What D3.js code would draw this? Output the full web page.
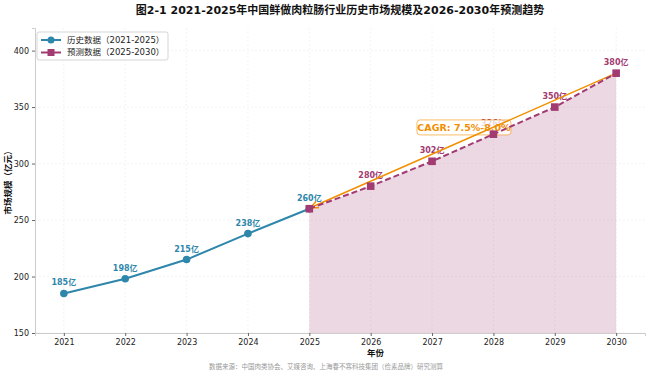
<!DOCTYPE html>
<html>
<head>
<meta charset="utf-8">
<script src="https://cdn.jsdelivr.net/npm/d3@7"></script>
<style>
body { margin: 0; background: #fff; }
svg text { font-family: "DejaVu Sans", "Noto Sans CJK SC", sans-serif; }
</style>
</head>
<body>
<div id="chart"></div>
<script>
// history + forecast data (亿元)
var histYears = [2021, 2022, 2023, 2024, 2025];
var histValues = [185, 198, 215, 238, 260];
var foreYears = [2025, 2026, 2027, 2028, 2029, 2030];
var foreValues = [260, 280, 302, 326, 350, 380];
var yTicks = [150, 200, 250, 300, 350, 400];

var blue = "#2E86AB", plum = "#A23B72", orange = "#F18F01";

var width = 650, height = 377;
var margin = {top: 28, right: 5, bottom: 44, left: 35};

var svg = d3.select("#chart").append("svg")
	.attr("width", width)
	.attr("height", height);

var x = d3.scaleLinear()
	.domain([2020.53, 2030.47])
	.range([margin.left, width - margin.right]);

var y = d3.scaleLinear()
	.domain([150, 420])
	.range([height - margin.bottom, margin.top]);

// grid
var grid = svg.append("g");
grid.selectAll(".gx").data(d3.range(2021, 2031)).enter().append("line")
	.attr("x1", d => x(d)).attr("x2", d => x(d))
	.attr("y1", margin.top).attr("y2", height - margin.bottom)
	.attr("stroke", "#ececec").attr("stroke-width", 0.6).attr("stroke-dasharray", "2,2");
grid.selectAll(".gy").data(yTicks).enter().append("line")
	.attr("x1", margin.left).attr("x2", width - margin.right)
	.attr("y1", d => y(d)).attr("y2", d => y(d))
	.attr("stroke", "#ececec").attr("stroke-width", 0.6).attr("stroke-dasharray", "2,2");

// forecast area
var area = d3.area()
	.x((d, i) => x(foreYears[i]))
	.y0(y(150))
	.y1(d => y(d));
svg.append("path")
	.datum(foreValues)
	.attr("d", area)
	.attr("fill", plum).attr("fill-opacity", 0.2);

// axes
var xAxis = svg.append("g")
	.attr("transform", "translate(0," + (height - margin.bottom) + ")")
	.call(d3.axisBottom(x).tickValues(d3.range(2021, 2031)).tickFormat(d3.format("d")).tickSize(3).tickPadding(3));
var yAxis = svg.append("g")
	.attr("transform", "translate(" + margin.left + ",0)")
	.call(d3.axisLeft(y).tickValues(yTicks).tickSize(3).tickPadding(3));
[xAxis, yAxis].forEach(function(a) {
	a.select(".domain").attr("stroke", "#cccccc");
	a.selectAll(".tick line").attr("stroke", "#666");
	a.selectAll(".tick text").attr("fill", "#222").style("font-size", "8px");
});

// value labels
var allYears = histYears.concat(foreYears.slice(1));
var allValues = histValues.concat(foreValues.slice(1));
svg.selectAll(".vlab").data(d3.zip(allYears, allValues)).enter().append("text")
	.attr("x", d => x(d[0]))
	.attr("y", d => y(d[1]) - 8)
	.attr("text-anchor", "middle")
	.attr("fill", d => d[0] <= 2025 ? blue : plum)
	.style("font-size", "8px").style("font-weight", "bold")
	.text(d => d[1] + "亿");

// CAGR box (semi-transparent, sits over the 2028 label, under the lines)
var cg = svg.append("g").attr("transform", "translate(" + x(2027.52) + "," + y(332) + ")");
cg.append("rect")
	.attr("x", -47).attr("y", -7.5).attr("width", 94).attr("height", 15).attr("rx", 3)
	.attr("fill", "#fff").attr("fill-opacity", 0.8)
	.attr("stroke", orange).attr("stroke-opacity", 0.6).attr("stroke-width", 1);
cg.append("text")
	.attr("text-anchor", "middle").attr("dy", "0.35em")
	.attr("fill", orange)
	.style("font-size", "9.5px").style("font-weight", "bold")
	.text("CAGR: 7.5%-8.0%");

// orange CAGR arrow
svg.append("defs").append("marker")
	.attr("id", "arrow").attr("viewBox", "0 0 10 10")
	.attr("refX", 9).attr("refY", 5)
	.attr("markerWidth", 6).attr("markerHeight", 6)
	.attr("orient", "auto")
	.append("path").attr("d", "M0,1 L9,5 L0,9").attr("fill", "none").attr("stroke", orange).attr("stroke-width", 1.5);
svg.append("line")
	.attr("x1", x(2030)).attr("y1", y(380))
	.attr("x2", x(2025) + 1).attr("y2", y(260) - 1)
	.attr("stroke", orange).attr("stroke-width", 1.5)
	.attr("marker-end", "url(#arrow)");

// lines
var line = d3.line().x(d => x(d[0])).y(d => y(d[1]));
svg.append("path")
	.datum(d3.zip(histYears, histValues))
	.attr("d", line)
	.attr("fill", "none").attr("stroke", blue).attr("stroke-width", 2);
svg.append("path")
	.datum(d3.zip(foreYears, foreValues))
	.attr("d", line)
	.attr("fill", "none").attr("stroke", plum).attr("stroke-width", 2)
	.attr("stroke-dasharray", "6,3");

svg.selectAll(".hdot").data(d3.zip(histYears, histValues)).enter().append("circle")
	.attr("cx", d => x(d[0])).attr("cy", d => y(d[1])).attr("r", 3.8)
	.attr("fill", blue);
svg.selectAll(".fdot").data(d3.zip(foreYears, foreValues)).enter().append("rect")
	.attr("x", d => x(d[0]) - 3.8).attr("y", d => y(d[1]) - 3.8)
	.attr("width", 7.6).attr("height", 7.6)
	.attr("fill", plum);

// legend
var lg = svg.append("g").attr("transform", "translate(37,32)");
lg.append("rect").attr("width", 131).attr("height", 28).attr("rx", 2)
	.attr("fill", "#fff").attr("fill-opacity", 0.9).attr("stroke", "#d5d5d5");
var legendItems = [["历史数据（2021-2025）", blue, "circle"], ["预测数据（2025-2030）", plum, "square"]];
legendItems.forEach(function(it, i) {
	var gy = 8 + i * 12.5;
	lg.append("line").attr("x1", 4).attr("x2", 24).attr("y1", gy).attr("y2", gy)
		.attr("stroke", it[1]).attr("stroke-width", 2);
	if (it[2] == "circle")
		lg.append("circle").attr("cx", 14).attr("cy", gy).attr("r", 3.5).attr("fill", it[1]);
	else
		lg.append("rect").attr("x", 10.5).attr("y", gy - 3.5).attr("width", 7).attr("height", 7).attr("fill", it[1]);
	lg.append("text").attr("x", 30).attr("y", gy).attr("dy", "0.35em")
		.attr("fill", "#222").style("font-size", "8.5px").text(it[0]);
});

// title, axis labels, source
svg.append("text")
	.attr("x", 340).attr("y", 14).attr("text-anchor", "middle")
	.style("font-size", "11px").style("font-weight", "bold").attr("fill", "#111")
	.text("图2-1  2021-2025年中国鲜做肉粒肠行业历史市场规模及2026-2030年预测趋势");
svg.append("text")
	.attr("transform", "translate(11," + ((margin.top + height - margin.bottom) / 2) + ") rotate(-90)")
	.attr("text-anchor", "middle")
	.style("font-size", "8.5px").style("font-weight", "bold").attr("fill", "#111")
	.text("市场规模（亿元）");
svg.append("text")
	.attr("x", x(2026.08)).attr("y", 356).attr("text-anchor", "middle")
	.style("font-size", "8.5px").style("font-weight", "bold").attr("fill", "#111")
	.text("年份");
svg.append("text")
	.attr("x", 326).attr("y", 369).attr("text-anchor", "middle")
	.style("font-size", "6.5px").attr("fill", "#999")
	.text("数据来源：中国肉类协会、艾媒咨询、上海春不寒科技集团（俭素品牌）研究测算");
</script>
</body>
</html>
